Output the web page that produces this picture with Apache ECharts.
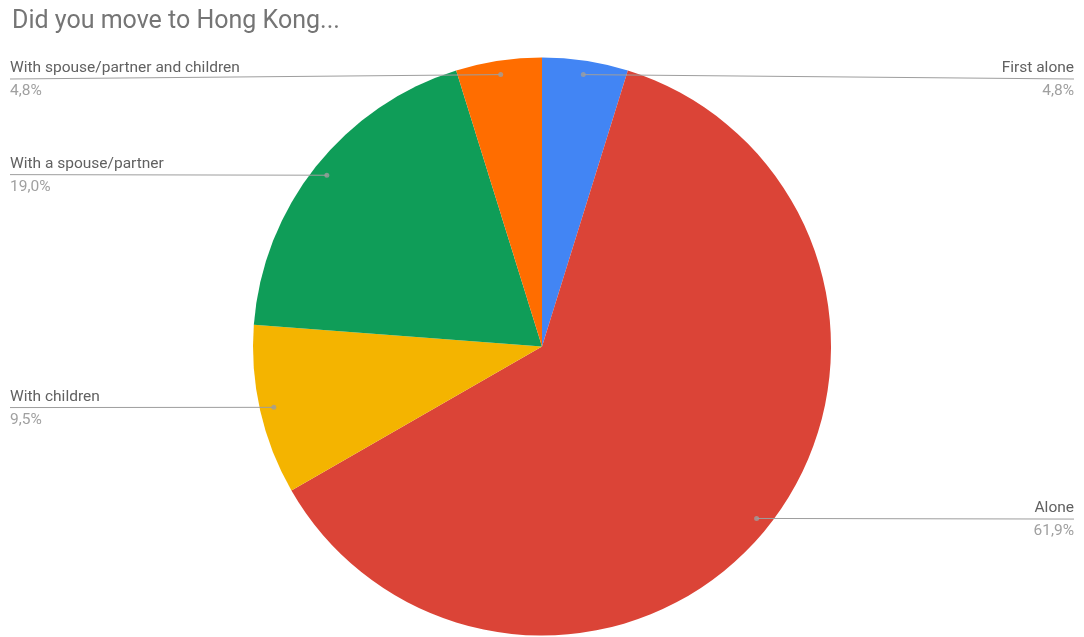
<!DOCTYPE html>
<html>
<head>
<meta charset="utf-8">
<script src="https://cdn.jsdelivr.net/npm/echarts@6/dist/echarts.min.js"></script>
<style>
  html, body { margin: 0; padding: 0; background: #ffffff; }
  #chart { width: 1084px; height: 637px; }
</style>
</head>
<body>
<div id="chart"></div>
<script>
// Survey answers, clockwise from 12 o'clock
const categories = [
  'First alone',
  'Alone',
  'With children',
  'With a spouse/partner',
  'With spouse/partner and children'
];
const shares = [4.8, 61.9, 9.5, 19.0, 4.8];
const colors = ['#4285F4', '#DB4437', '#F4B400', '#0F9D58', '#FF6D00'];

const CENTER = [542, 346.5];
const RADIUS = 289;
const ANCHOR_R = 275;    // where the leader lines start, just inside the rim
const MIN_LABEL_Y = 79;  // keep the top labels clear of the title

const total = shares.reduce((a, b) => a + b, 0);
const fmtPct = v => v.toFixed(1).replace('.', ',') + '%';

const pieData = categories.map((name, i) => ({
  name, value: shares[i], itemStyle: { color: colors[i] }
}));
const labelData = categories.map((name, i) => ({ name, value: shares[i] }));

// mid-angle of every slice (in share units) for the small anchor dots
let acc = 0;
const anchors = shares.map(v => {
  const mid = acc + v / 2;
  acc += v;
  return [ANCHOR_R, mid];
});

const chart = echarts.init(document.getElementById('chart'), null, { renderer: 'canvas' });

chart.setOption({
  animation: false,
  backgroundColor: '#ffffff',
  title: {
    text: 'Did you move to Hong Kong...',
    left: 7,
    top: 4,
    textStyle: {
      fontFamily: 'Roboto',
      fontSize: 25,
      fontWeight: 'normal',
      color: '#757575'
    }
  },
  polar: { center: CENTER, radius: RADIUS },
  angleAxis: {
    type: 'value', min: 0, max: total,
    startAngle: 90, clockwise: true, show: false
  },
  radiusAxis: { type: 'value', min: 0, max: RADIUS, show: false },
  series: [
    {
      type: 'pie',
      center: CENTER,
      radius: RADIUS,
      startAngle: 90,
      silent: true,
      data: pieData,
      label: { show: false },
      labelLine: { show: false },
      itemStyle: { borderWidth: 0 }
    },
    {
      // invisible twin that carries the leader lines and labels
      type: 'pie',
      center: CENTER,
      radius: ANCHOR_R,
      startAngle: 90,
      silent: true,
      z: 3,
      data: labelData,
      itemStyle: { color: 'rgba(0,0,0,0)', borderWidth: 0 },
      label: {
        show: true,
        position: 'outer',
        alignTo: 'edge',
        edgeDistance: 10,
        formatter: p => `{n|${p.name}}\n{p|${fmtPct(p.value)}}`,
        rich: {
          n: { fontFamily: 'Roboto', fontSize: 15.5, color: '#616161', lineHeight: 25 },
          p: { fontFamily: 'Roboto', fontSize: 15.5, color: '#a0a0a0', lineHeight: 21 }
        }
      },
      labelLine: {
        show: true,
        length: 1,
        length2: 0,
        smooth: false,
        lineStyle: { color: '#9e9e9e', width: 1 }
      },
      labelLayout: function (params) {
        const pts = params.labelLinePoints;
        if (!pts || !pts.length) return {};
        const r = params.labelRect;
        const end = pts[pts.length - 1];
        const toRight = end[0] >= pts[0][0];
        const x = toRight ? r.x + r.width : r.x;
        const shift = Math.max(0, MIN_LABEL_Y - end[1]);
        return {
          dy: shift,
          labelLinePoints: [pts[0], [x, end[1] + shift]]
        };
      }
    },
    {
      type: 'scatter',
      coordinateSystem: 'polar',
      silent: true,
      z: 4,
      symbol: 'circle',
      symbolSize: 5,
      itemStyle: { color: '#9e9e9e' },
      data: anchors
    }
  ]
});
</script>
</body>
</html>
